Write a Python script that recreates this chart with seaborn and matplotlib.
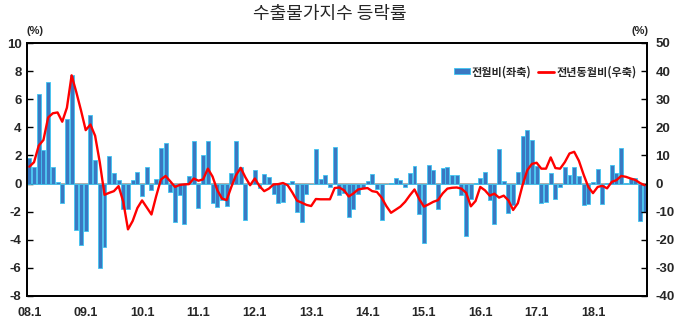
import numpy as np
import pandas as pd
import matplotlib
matplotlib.use("Agg")
import matplotlib.pyplot as plt
import seaborn as sns
from matplotlib.patches import Patch
from matplotlib.lines import Line2D
from matplotlib.font_manager import FontProperties

# Month-on-month change (%, left axis)
mom_2008 = [1.8, 1.2, 6.35, 2.4, 7.2, 1.2, 0.1, -1.4, 4.6, 7.7, -3.3, -4.4]
mom_2009 = [-3.4, 4.85, 1.7, -6.0, -4.5, 1.95, 0.75, 0.28, -1.8, -1.8, 0.25, 0.85]
mom_2010 = [-0.85, 1.2, -0.45, 0.3, 2.5, 2.9, -0.6, -2.7, -0.82, -2.9, 0.55, 3.0]
mom_2011 = [-1.75, 2.0, 3.05, -1.4, -1.65, -1.2, -1.6, 0.75, 3.0, 1.2, -2.6, -0.05]
mom_2012 = [1.0, -0.35, 0.68, 0.45, -0.75, -1.4, -1.3, 0.05, 0.2, -2.0, -2.75, -0.72]
mom_2013 = [-0.05, 2.45, 0.3, 0.62, -0.22, 2.57, -0.8, -0.65, -2.4, -1.78, -0.72, -0.35]
mom_2014 = [0.2, 0.68, -0.38, -2.6, -0.05, 0.05, 0.4, 0.22, -0.22, 0.75, 1.22, -2.2]
mom_2015 = [-4.2, 1.34, 0.97, -1.8, 1.1, 1.18, 0.6, 0.6, -0.8, -3.75, -1.08, 0.07]
mom_2016 = [0.42, 0.8, -1.2, -2.9, 2.47, 0.2, -2.1, -1.5, 0.8, 3.4, 3.84, 3.08]
mom_2017 = [1.22, -1.36, -1.28, 0.72, -1.13, -0.22, 1.18, 0.62, 1.18, 0.54, -1.5, -1.46]
mom_2018 = [0.1, 1.06, -1.46, 0.07, 1.3, 0.75, 2.52, 0.07, 0.42, 0.42, -2.63, -2.0]

# Year-on-year change (%, right axis)
yoy_2008 = [6, 7.6, 13.5, 15.5, 23.5, 25, 25.3, 22, 27, 38.5, 32.5, 26]
yoy_2009 = [19, 21, 17, 7.5, -4, -3.3, -2.7, -0.9, -6.5, -16.3, -13.3, -8.7]
yoy_2010 = [-6, -8.5, -11, -4.5, 1.4, 2.7, 0.8, -1.2, -0.5, -0.3, -0.2, 1.8]
yoy_2011 = [1, 1.5, 5.3, 2.5, -2.3, -5.3, -5.9, -1.2, 3, 5.6, 2.2, -0.6]
yoy_2012 = [1.8, -0.9, -2.7, -1.8, -0.3, -0.2, 0.2, -0.6, -3.2, -6.1, -6.8, -7.6]
yoy_2013 = [-8, -5.5, -5.6, -5.6, -5.6, -1.6, -1.4, -2.4, -4.6, -3.5, -2.1, -1.8]
yoy_2014 = [-1.6, -2.7, -3, -5, -8, -10.4, -9.3, -8.2, -6.5, -4.2, -2.1, -5.5]
yoy_2015 = [-8.2, -7.4, -6.5, -5.9, -3.5, -1.8, -1.5, -1.4, -1.8, -3.3, -8.1, -6.2]
yoy_2016 = [-1.2, -2.4, -4.3, -3.6, -5, -4.3, -6, -9.4, -7, -0.6, 4.7, 7]
yoy_2017 = [7.4, 5.3, 5.3, 9.3, 5.5, 5.3, 7.6, 10.7, 11.3, 8.1, 3.2, -1.2]
yoy_2018 = [-3.4, -1.2, -0.8, -1.7, 0.6, 1.2, 2.7, 2.4, 1.8, 1.3, 0.2, -0.6]

year_labels = ["08.1", "09.1", "10.1", "11.1", "12.1", "13.1",
               "14.1", "15.1", "16.1", "17.1", "18.1"]
series_names = ["전월비(좌축)", "전년동월비(우축)"]
title_text = "수출물가지수 등락률"

mom = (mom_2008 + mom_2009 + mom_2010 + mom_2011 + mom_2012 + mom_2013
       + mom_2014 + mom_2015 + mom_2016 + mom_2017 + mom_2018)
yoy = (yoy_2008 + yoy_2009 + yoy_2010 + yoy_2011 + yoy_2012 + yoy_2013
       + yoy_2014 + yoy_2015 + yoy_2016 + yoy_2017 + yoy_2018)

months = pd.period_range("2008-01", "2018-12", freq="M")
df = pd.DataFrame({"pos": np.arange(len(months)), "mom": mom, "yoy": yoy})

BAR = "#3A78C2"
EDGE = "#3DC6F2"
RED = "#FF0000"

sns.set_theme(style="white")
plt.rcParams["font.family"] = ["Liberation Sans Narrow", "Liberation Sans", "DejaVu Sans"]
plt.rcParams["axes.unicode_minus"] = False

fig = plt.figure(figsize=(6.8, 3.26), dpi=100)
ax = fig.add_axes([27 / 680, 30 / 326, 620 / 680, 253 / 326])

ax.axhline(0, color="#A6A6A6", lw=1.3, zorder=0.5)
sns.barplot(data=df, x="pos", y="mom", ax=ax, color=BAR, saturation=1,
            edgecolor=EDGE, linewidth=0.6, width=0.85, zorder=2)

ax2 = ax.twinx()
sns.lineplot(data=df, x="pos", y="yoy", ax=ax2, color=RED, lw=1.7)

ax.set_xlim(-0.5, len(months) - 0.5)
ax.set_ylim(-8, 10)
ax2.set_ylim(-40, 50)
ax.set_yticks(np.arange(-8, 11, 2))
ax2.set_yticks(np.arange(-40, 51, 10))
ax.set_xticks(np.arange(0, len(months), 12))
ax.set_xticklabels(year_labels)

for a in (ax, ax2):
    a.set_xlabel("")
    a.set_ylabel("")
    for s in a.spines.values():
        s.set_visible(True)
        s.set_color("black")
        s.set_linewidth(1.3)

ax.tick_params(axis="y", direction="in", length=4, width=1, color="black",
               labelsize=9.5, pad=4)
ax2.tick_params(axis="y", direction="in", length=4, width=1, color="black",
                labelsize=9.5, pad=6)
ax.tick_params(axis="x", length=0, labelsize=9, pad=8)
for lab in ax.get_yticklabels() + ax2.get_yticklabels() + ax.get_xticklabels():
    lab.set_fontweight("bold")

fig.text(35 / 680, 1 - 31 / 326, "(%)", ha="center", va="center",
         fontsize=8, fontweight="bold")
fig.text(640 / 680, 1 - 31 / 326, "(%)", ha="center", va="center",
         fontsize=8, fontweight="bold")
fig.text(330 / 680, 1 - 14 / 326, title_text, ha="center", va="center",
         fontsize=13, family=["Noto Sans CJK KR", "DejaVu Sans"])

handles = [Patch(facecolor=BAR, edgecolor=EDGE, linewidth=0.6),
           Line2D([], [], color=RED, lw=2)]
leg = ax2.legend(handles, series_names, loc="upper right",
                 bbox_to_anchor=(0.99, 0.93), ncol=2, frameon=False,
                 prop=FontProperties(family=["Noto Sans CJK KR", "DejaVu Sans"],
                                     weight="bold", size=8),
                 handlelength=1.4, handleheight=0.5, handletextpad=0.2,
                 columnspacing=0.6, borderaxespad=0)

fig.savefig("out.png", dpi=100)
